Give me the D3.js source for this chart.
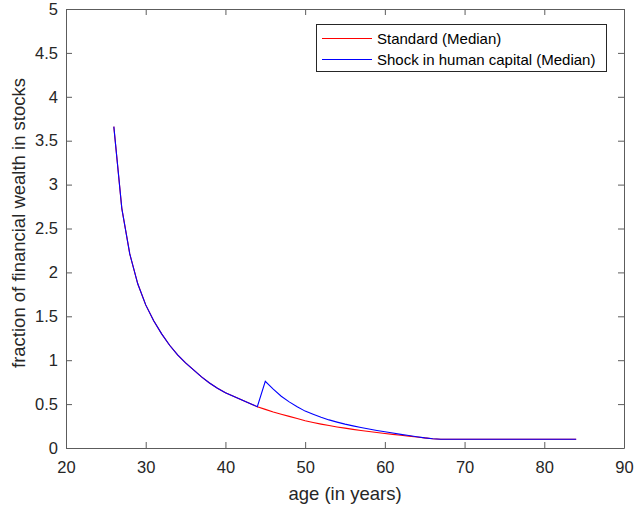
<!DOCTYPE html>
<html>
<head>
<meta charset="utf-8">
<script src="https://cdn.jsdelivr.net/npm/d3@7"></script>
<style>
  body { margin: 0; background: #fff; }
  svg { font-family: "Liberation Sans", Arial, sans-serif; }
</style>
</head>
<body>
<svg id="chart" width="634" height="509"></svg>
<script>
// ages 26..84, one point per year
const ages = d3.range(26, 85);

// Standard (Median), ages 26..67, then flat 0.1
const standardHead = [3.66, 2.73, 2.21, 1.87, 1.63, 1.45, 1.30, 1.17, 1.06, 0.97,
  0.89, 0.81, 0.74, 0.68, 0.63, 0.59, 0.55, 0.51, 0.47,
  0.44, 0.41, 0.385, 0.36, 0.335, 0.31, 0.29, 0.272, 0.256, 0.24, 0.226,
  0.212, 0.2, 0.188, 0.177, 0.166, 0.155, 0.145, 0.135, 0.125, 0.115, 0.105, 0.1];

// Shock in human capital (Median), same up to 44 then jump at 45
const shockHead = [3.66, 2.73, 2.21, 1.87, 1.63, 1.45, 1.30, 1.17, 1.06, 0.97,
  0.89, 0.81, 0.74, 0.68, 0.63, 0.59, 0.55, 0.51, 0.47,
  0.76, 0.67, 0.59, 0.525, 0.47, 0.42, 0.385, 0.35, 0.32, 0.295, 0.272,
  0.252, 0.234, 0.216, 0.2, 0.185, 0.17, 0.155, 0.142, 0.128, 0.115, 0.105, 0.1];

const tailValue = 0.1;
const standard = ages.map((a, i) => i < standardHead.length ? standardHead[i] : tailValue);
const shock = ages.map((a, i) => i < shockHead.length ? shockHead[i] : tailValue);

const xTicks = [20, 30, 40, 50, 60, 70, 80, 90];
const yTicks = [0, 0.5, 1, 1.5, 2, 2.5, 3, 3.5, 4, 4.5, 5];

const series = [
  { name: 'Standard (Median)', values: standard, color: '#ff0000' },
  { name: 'Shock in human capital (Median)', values: shock, color: '#0000ff' }
];

const svg = d3.select('#chart');
const plotLeft = 66, plotRight = 624, plotTop = 9, plotBottom = 448;

const x = d3.scaleLinear().domain([20, 90]).range([plotLeft, plotRight]);
const y = d3.scaleLinear().domain([0, 5]).range([plotBottom, plotTop]);

const axisColor = '#5c5c5c';
const textColor = '#262626';

// curves
const line = d3.line().x((d, i) => x(ages[i])).y(d => y(d));
svg.append('g')
  .selectAll('path')
  .data(series)
  .join('path')
    .attr('d', d => line(d.values))
    .attr('fill', 'none')
    .attr('stroke', d => d.color)
    .attr('stroke-width', 1.1);

// axes (box with inward ticks on all sides)
const tickLen = 6;
const xb = svg.append('g').attr('transform', `translate(0,${plotBottom})`)
  .call(d3.axisBottom(x).tickValues(xTicks).tickSizeInner(-tickLen).tickSizeOuter(0).tickPadding(13));
const xt = svg.append('g').attr('transform', `translate(0,${plotTop})`)
  .call(d3.axisTop(x).tickValues(xTicks).tickSizeInner(-tickLen).tickSizeOuter(0).tickFormat(''));
const yl = svg.append('g').attr('transform', `translate(${plotLeft},0)`)
  .call(d3.axisLeft(y).tickValues(yTicks).tickSizeInner(-tickLen).tickSizeOuter(0).tickPadding(8).tickFormat(d3.format('')));
const yr = svg.append('g').attr('transform', `translate(${plotRight},0)`)
  .call(d3.axisRight(y).tickValues(yTicks).tickSizeInner(-tickLen).tickSizeOuter(0).tickFormat(''));

[xb, xt, yl, yr].forEach(g => {
  g.select('.domain').attr('stroke', axisColor);
  g.selectAll('.tick line').attr('stroke', axisColor);
  g.selectAll('.tick text').attr('fill', textColor).style('font-size', '16.5px');
});

// axis labels
svg.append('text')
  .attr('x', (plotLeft + plotRight) / 2).attr('y', 500)
  .attr('text-anchor', 'middle')
  .attr('fill', textColor)
  .style('font-size', '18.5px')
  .text('age (in years)');

svg.append('text')
  .attr('transform', `translate(25,223) rotate(-90)`)
  .attr('text-anchor', 'middle')
  .attr('fill', textColor)
  .style('font-size', '18.5px')
  .text('fraction of financial wealth in stocks');

// legend
const legend = svg.append('g');
legend.append('rect')
  .attr('x', 316.5).attr('y', 24.5).attr('width', 290).attr('height', 47)
  .attr('fill', '#fff').attr('stroke', textColor).attr('stroke-width', 1);
const rows = legend.selectAll('g.row')
  .data(series)
  .join('g')
    .attr('class', 'row')
    .attr('transform', (d, i) => `translate(0,${38.5 + i * 21})`);
rows.append('line')
  .attr('x1', 322).attr('x2', 372)
  .attr('stroke', d => d.color).attr('stroke-width', 1);
rows.append('text')
  .attr('x', 377).attr('y', 5.5)
  .attr('fill', '#000')
  .style('font-size', '15px')
  .text(d => d.name);
</script>
</body>
</html>
